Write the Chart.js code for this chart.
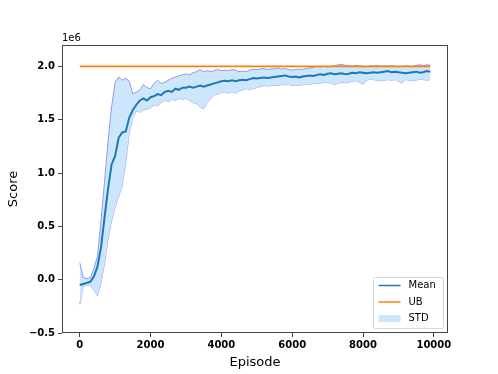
<!DOCTYPE html>
<html>
<head>
<meta charset="utf-8">
<script src="https://cdn.jsdelivr.net/npm/chart.js@4.4.1/dist/chart.umd.min.js"></script>
<style>
  html, body { margin: 0; padding: 0; background: #fff; }
  #wrap { width: 498px; height: 374px; }
</style>
</head>
<body>
<div id="wrap"><canvas id="scoreChart" width="498" height="374"></canvas></div>
<script>
// values in units of 1e6, one point every 100 episodes (0 .. 9900)
const meanScore = [
  -0.05, -0.04, -0.03, -0.02, 0.03, 0.12, 0.30, 0.58, 0.85, 1.08,
  1.16, 1.33, 1.38, 1.39, 1.52, 1.59, 1.64, 1.68, 1.70, 1.68,
  1.71, 1.72, 1.74, 1.73, 1.76, 1.77, 1.76, 1.79, 1.78, 1.80,
  1.80, 1.81, 1.80, 1.81, 1.82, 1.81, 1.82, 1.83, 1.84, 1.85,
  1.86, 1.865, 1.86, 1.87, 1.86, 1.87, 1.875, 1.87, 1.88, 1.89,
  1.885, 1.89, 1.895, 1.89, 1.895, 1.90, 1.905, 1.91, 1.915, 1.905,
  1.90, 1.905, 1.895, 1.905, 1.91, 1.915, 1.91, 1.92, 1.925, 1.92,
  1.93, 1.935, 1.925, 1.93, 1.935, 1.925, 1.93, 1.94, 1.935, 1.945,
  1.94, 1.935, 1.94, 1.945, 1.94, 1.945, 1.95, 1.955, 1.945, 1.95,
  1.945, 1.94, 1.935, 1.94, 1.945, 1.95, 1.94, 1.945, 1.955, 1.95
];
const upperScore = [
  0.16, 0.02, 0.01, 0.02, 0.10, 0.22, 0.55, 0.92, 1.30, 1.62,
  1.85, 1.90, 1.87, 1.89, 1.86, 1.74, 1.76, 1.78, 1.83, 1.80,
  1.79, 1.84, 1.87, 1.84, 1.85, 1.87, 1.89, 1.90, 1.91, 1.92,
  1.93, 1.92, 1.94, 1.95, 1.97, 1.95, 1.96, 1.95, 1.96, 1.97,
  1.96, 1.965, 1.96, 1.97, 1.965, 1.95, 1.955, 1.95, 1.965, 1.975,
  1.97, 1.975, 1.98, 1.97, 1.975, 1.98, 1.985, 1.975, 1.98, 1.97,
  1.965, 1.97, 1.975, 1.97, 1.98, 1.985, 1.99, 2.0, 1.995, 2.0,
  1.995, 2.0, 2.005, 2.015, 2.02, 2.01, 2.005, 2.0, 2.01, 2.005,
  2.0, 1.995, 2.005, 2.0, 2.01, 2.0, 2.005, 2.0, 2.005, 2.0,
  1.995, 2.0, 2.005, 2.0, 1.995, 2.01, 2.015, 2.005, 2.015, 2.01
];
const lowerScore = [
  -0.23, -0.06, -0.05, -0.05, -0.10, -0.15, -0.03, 0.15, 0.38, 0.55,
  0.68, 0.78, 0.88, 1.10, 1.38, 1.52, 1.58, 1.57, 1.59, 1.60,
  1.61, 1.64, 1.63, 1.66, 1.68, 1.67, 1.69, 1.68, 1.70, 1.69,
  1.70, 1.68, 1.66, 1.65, 1.62, 1.60, 1.66, 1.70, 1.73, 1.74,
  1.755, 1.76, 1.75, 1.76, 1.75, 1.77, 1.78, 1.79, 1.785, 1.79,
  1.80, 1.81, 1.82, 1.815, 1.82, 1.825, 1.82, 1.83, 1.825, 1.83,
  1.82, 1.825, 1.82, 1.83, 1.835, 1.83, 1.84, 1.845, 1.84, 1.85,
  1.85, 1.84, 1.83, 1.84, 1.85, 1.845, 1.85, 1.86, 1.865, 1.85,
  1.83, 1.87, 1.88, 1.875, 1.87, 1.865, 1.87, 1.875, 1.87, 1.875,
  1.86, 1.845, 1.875, 1.87, 1.865, 1.87, 1.88, 1.875, 1.87, 1.875
];
const upperBound = 2.0;
const episodes = meanScore.map((_, i) => i * 100);

const xTicks = [0, 2000, 4000, 6000, 8000, 10000];
const yTicks = [-0.5, 0.0, 0.5, 1.0, 1.5, 2.0];

const toXY = arr => arr.map((v, i) => ({ x: episodes[i], y: v }));

const BLUE = '#1f77b4';
const ORANGE = '#ff7f0e';
const BAND = '#cce6fb';
const BAND_EDGE = 'rgba(70,70,225,0.75)';
const AXIS = '#444';

/* frame, exponent label and legend */
const decorations = {
  id: 'decorations',
  afterDraw(chart) {
    const { ctx, chartArea: a } = chart;
    ctx.save();
    ctx.strokeStyle = AXIS;
    ctx.lineWidth = 1;
    ctx.strokeRect(Math.round(a.left) + 0.5, Math.round(a.top) + 0.5,
      Math.round(a.right - a.left) - 1, Math.round(a.bottom - a.top) - 1);

    ctx.fillStyle = '#000';
    ctx.font = '10px "DejaVu Sans"';
    ctx.textAlign = 'left';
    ctx.textBaseline = 'bottom';
    ctx.fillText('1e6', a.left, a.top - 2);

    // legend box, lower right
    const bx = 373.5, by = 277.5, bw = 70, bh = 51;
    ctx.fillStyle = 'rgba(255,255,255,0.8)';
    ctx.strokeStyle = '#d6d6d6';
    ctx.lineWidth = 1;
    ctx.beginPath();
    ctx.roundRect(bx, by, bw, bh, 2);
    ctx.fill();
    ctx.stroke();

    const items = [
      { label: 'Mean', type: 'line', color: BLUE },
      { label: 'UB', type: 'line', color: ORANGE },
      { label: 'STD', type: 'patch' }
    ];
    ctx.font = '10px "DejaVu Sans"';
    ctx.textBaseline = 'middle';
    items.forEach((it, i) => {
      const cy = by + 8 + i * 16.5;
      if (it.type === 'line') {
        ctx.strokeStyle = it.color;
        ctx.lineWidth = 1.5;
        ctx.beginPath();
        ctx.moveTo(bx + 5, cy);
        ctx.lineTo(bx + 27, cy);
        ctx.stroke();
      } else {
        ctx.fillStyle = BAND;
        ctx.fillRect(bx + 5, cy - 3.5, 22, 7);
      }
      ctx.fillStyle = '#000';
      ctx.fillText(it.label, bx + 35, cy);
    });
    ctx.restore();
  }
};

new Chart(document.getElementById('scoreChart').getContext('2d'), {
  type: 'line',
  data: {
    datasets: [
      {
        label: 'Mean',
        data: toXY(meanScore),
        borderColor: BLUE,
        borderWidth: 2,
        pointRadius: 0,
        tension: 0,
        fill: false
      },
      {
        label: 'UB',
        data: episodes.map(e => ({ x: e, y: upperBound })),
        borderColor: ORANGE,
        borderWidth: 1.8,
        pointRadius: 0,
        fill: false
      },
      {
        label: 'STD',
        data: toXY(upperScore),
        borderColor: BAND_EDGE,
        borderWidth: 0.7,
        backgroundColor: BAND,
        pointRadius: 0,
        fill: '+1'
      },
      {
        label: 'STD lower',
        data: toXY(lowerScore),
        borderColor: BAND_EDGE,
        borderWidth: 0.7,
        pointRadius: 0,
        fill: false
      }
    ]
  },
  options: {
    responsive: false,
    animation: false,
    layout: { padding: { top: 45, right: 50, left: 0, bottom: 0 } },
    plugins: {
      legend: { display: false },
      tooltip: { enabled: false }
    },
    scales: {
      x: {
        type: 'linear',
        min: -500,
        max: 10400,
        afterBuildTicks: s => { s.ticks = xTicks.map(v => ({ value: v })); },
        afterFit: s => { s.height = 41; },
        grid: { drawOnChartArea: false, drawTicks: true, tickLength: 4, color: AXIS },
        border: { display: false },
        ticks: {
          color: '#000',
          padding: 2,
          maxRotation: 0,
          font: { family: 'DejaVu Sans', size: 10, weight: 'bold' },
          callback: v => String(v)
        },
        title: {
          display: true,
          text: 'Episode',
          color: '#000',
          font: { family: 'DejaVu Sans', size: 13 },
          padding: { top: 0, bottom: 4 }
        }
      },
      y: {
        type: 'linear',
        min: -0.5,
        max: 2.2,
        afterBuildTicks: s => { s.ticks = yTicks.map(v => ({ value: v })); },
        afterFit: s => { s.width = 62; },
        grid: { drawOnChartArea: false, drawTicks: true, tickLength: 4, color: AXIS },
        border: { display: false },
        ticks: {
          color: '#000',
          padding: 3,
          font: { family: 'DejaVu Sans', size: 10, weight: 'bold' },
          callback: v => (v < 0 ? '\u2212' + Math.abs(v).toFixed(1) : v.toFixed(1))
        },
        title: {
          display: true,
          text: 'Score',
          color: '#000',
          font: { family: 'DejaVu Sans', size: 13 },
          padding: { top: 6, bottom: 0 }
        }
      }
    }
  },
  plugins: [decorations]
});
</script>
</body>
</html>
